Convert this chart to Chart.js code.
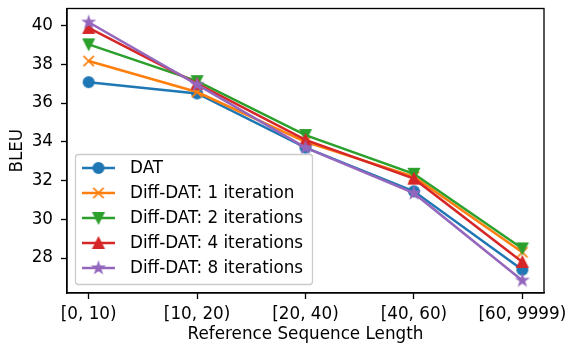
<!DOCTYPE html>
<html>
<head>
<meta charset="utf-8">
<script src="https://cdn.jsdelivr.net/npm/chart.js@4"></script>
<style>
  body { margin: 0; background: #fff; }
  #wrap { width: 567px; height: 345px; }
</style>
</head>
<body>
<div id="wrap"><canvas id="grafic" width="567" height="345"></canvas></div>
<script>
// --- data ---
const categories = ['[0, 10)', '[10, 20)', '[20, 40)', '[40, 60)', '[60, 9999)'];
const yTicks = [28, 30, 32, 34, 36, 38, 40];

const dat   = [37.08, 36.5, 33.7, 31.45, 27.4];
const diff1 = [38.17, 36.57, 34.0, 32.2, 28.3];
const diff2 = [39.03, 37.13, 34.35, 32.35, 28.5];
const diff4 = [39.88, 37.0, 34.1, 32.1, 27.8];
const diff8 = [40.17, 36.95, 33.7, 31.35, 26.85];

const seriesNames = ['DAT', 'Diff-DAT: 1 iteration', 'Diff-DAT: 2 iterations', 'Diff-DAT: 4 iterations', 'Diff-DAT: 8 iterations'];
const seriesData = [dat, diff1, diff2, diff4, diff8];
const colors = ['#1f77b4', '#ff7f0e', '#2ca02c', '#d62728', '#9467bd'];
const markers = ['circle', 'x', 'triDown', 'tri', 'star'];

const FONT = '"DejaVu Sans", sans-serif';
const FS = 16.8;

// matplotlib-like markers as small canvases
function makeMarker(kind, color) {
    const c = document.createElement('canvas');
    c.width = 22; c.height = 22;
    const g = c.getContext('2d');
    g.translate(11, 11);
    g.fillStyle = color;
    g.strokeStyle = color;
    g.lineWidth = 1.7;
    g.lineJoin = 'miter';
    const r = 5.2;
    g.beginPath();
    if (kind === 'circle') {
        g.arc(0, 0, r, 0, Math.PI * 2);
    } else if (kind === 'tri') {
        g.moveTo(0, -r); g.lineTo(-r, r); g.lineTo(r, r); g.closePath();
    } else if (kind === 'triDown') {
        g.moveTo(0, r); g.lineTo(-r, -r); g.lineTo(r, -r); g.closePath();
    } else if (kind === 'star') {
        for (let i = 0; i < 10; i++) {
            const rr = i % 2 === 0 ? r : r * 0.382;
            const a = -Math.PI / 2 + i * Math.PI / 5;
            const px = rr * Math.cos(a), py = rr * Math.sin(a);
            if (i === 0) g.moveTo(px, py); else g.lineTo(px, py);
        }
        g.closePath();
    } else if (kind === 'x') {
        g.moveTo(-r, -r); g.lineTo(r, r);
        g.moveTo(-r, r); g.lineTo(r, -r);
    }
    if (kind !== 'x') g.fill();
    g.stroke();
    return c;
}

const markerImgs = markers.map((m, i) => makeMarker(m, colors[i]));

const datasets = seriesData.map((vals, i) => ({
    label: seriesNames[i],
    data: vals.map((v, j) => ({ x: j, y: v })),
    borderColor: colors[i],
    backgroundColor: colors[i],
    borderWidth: 2.5,
    pointStyle: markerImgs[i],
    pointRadius: 6,
    tension: 0,
    order: seriesData.length - i
}));

// box around plot + legend inside the axes (lower left)
const framePlugin = {
    id: 'frame',
    afterDraw(chart) {
        const ctx = chart.ctx;
        const a = chart.chartArea;
        ctx.save();
        ctx.strokeStyle = '#000';
        ctx.lineWidth = 1.33;
        ctx.strokeRect(a.left, a.top, a.right - a.left, a.bottom - a.top);

        // legend
        const x0 = 75.5, y0 = 154.5, w = 237, h = 130, rad = 3;
        ctx.beginPath();
        ctx.moveTo(x0 + rad, y0);
        ctx.arcTo(x0 + w, y0, x0 + w, y0 + h, rad);
        ctx.arcTo(x0 + w, y0 + h, x0, y0 + h, rad);
        ctx.arcTo(x0, y0 + h, x0, y0, rad);
        ctx.arcTo(x0, y0, x0 + w, y0, rad);
        ctx.closePath();
        ctx.fillStyle = 'rgba(255,255,255,0.8)';
        ctx.fill();
        ctx.strokeStyle = '#cccccc';
        ctx.lineWidth = 1.33;
        ctx.stroke();

        ctx.font = FS + 'px ' + FONT;
        ctx.textBaseline = 'middle';
        ctx.textAlign = 'left';
        seriesNames.forEach((name, i) => {
            const y = 168 + i * 25;
            ctx.strokeStyle = colors[i];
            ctx.lineWidth = 2.5;
            ctx.beginPath();
            ctx.moveTo(82, y);
            ctx.lineTo(115, y);
            ctx.stroke();
            ctx.drawImage(markerImgs[i], 98.5 - 11, y - 11);
            ctx.fillStyle = '#000';
            ctx.fillText(name, 130, y + 1);
        });
        ctx.restore();
    }
};

new Chart(document.getElementById('grafic').getContext('2d'), {
    type: 'line',
    data: { datasets: datasets },
    plugins: [framePlugin],
    options: {
        responsive: false,
        animation: false,
        layout: { padding: { top: 8, right: 23, left: 0, bottom: 0 } },
        plugins: {
            legend: { display: false },
            tooltip: { enabled: false }
        },
        scales: {
            x: {
                type: 'linear',
                min: -0.2,
                max: 4.2,
                afterFit: s => {
                    s.height = 52;
                    s.paddingLeft = 0; s.paddingRight = 0;
                    s.paddingTop = 0; s.paddingBottom = 0;
                },
                afterBuildTicks: s => { s.ticks = categories.map((c, i) => ({ value: i })); },
                ticks: {
                    color: '#000',
                    font: { family: FONT, size: FS },
                    padding: 6,
                    maxRotation: 0,
                    callback: v => categories[v]
                },
                grid: {
                    drawOnChartArea: false,
                    drawTicks: true,
                    tickLength: 6,
                    tickColor: '#000',
                    tickWidth: 1.33
                },
                border: { color: '#000', width: 1.33 },
                title: {
                    display: true,
                    text: 'Reference Sequence Length',
                    color: '#000',
                    font: { family: FONT, size: FS },
                    padding: { top: 0, bottom: 0 }
                }
            },
            y: {
                min: 26.2,
                max: 40.88,
                afterFit: s => {
                    s.width = 67;
                    s.paddingLeft = 0; s.paddingRight = 0;
                    s.paddingTop = 0; s.paddingBottom = 0;
                },
                afterBuildTicks: s => { s.ticks = yTicks.map(v => ({ value: v })); },
                ticks: {
                    color: '#000',
                    font: { family: FONT, size: FS },
                    padding: 8
                },
                grid: {
                    drawOnChartArea: false,
                    drawTicks: true,
                    tickLength: 6,
                    tickColor: '#000',
                    tickWidth: 1.33
                },
                border: { color: '#000', width: 1.33 },
                title: {
                    display: true,
                    text: 'BLEU',
                    color: '#000',
                    font: { family: FONT, size: FS },
                    padding: { top: 8, bottom: 0 }
                }
            }
        }
    }
});
</script>
</body>
</html>
